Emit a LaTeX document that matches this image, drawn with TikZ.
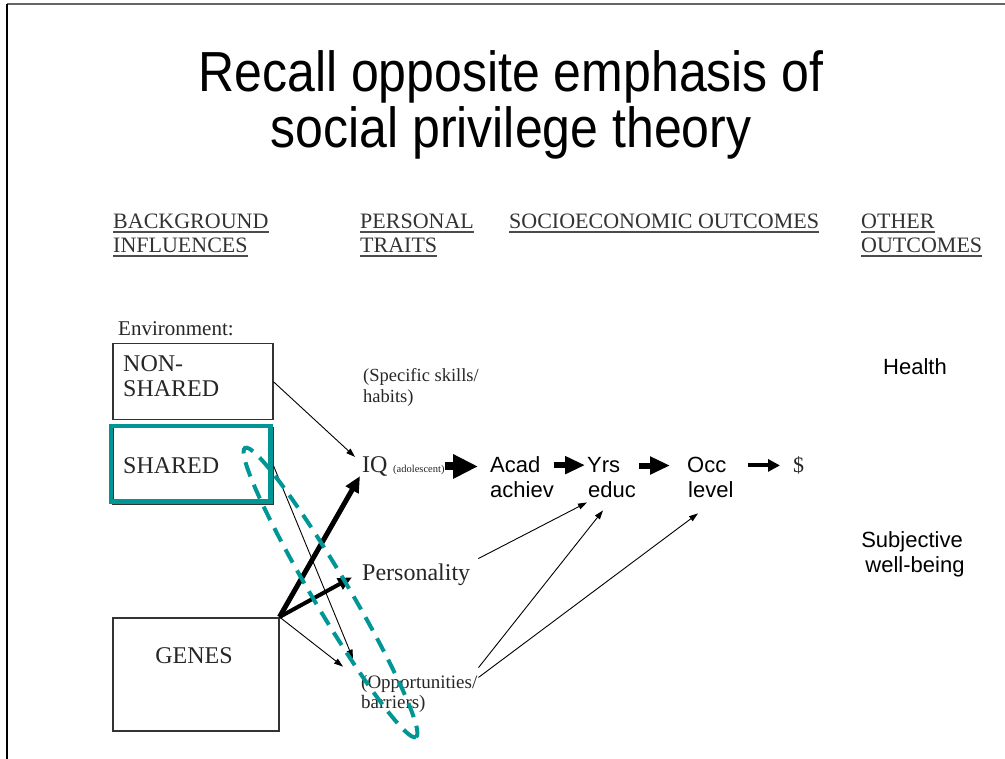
\documentclass[tikz,border=0pt]{standalone}
\usepackage{graphicx}
\usepackage{fontspec}
\setmainfont{Liberation Serif}
\newfontfamily\arialfont{Liberation Sans}
\usetikzlibrary{arrows.meta,calc}
\newcommand\fsz[1]{\fontsize{#1}{#1}\selectfont}
\definecolor{hlteal}{RGB}{0,150,150}

\begin{document}
\begin{tikzpicture}[x=1pt,y=-1pt,
  titlef/.style={inner sep=0pt, anchor=base, font=\arialfont\fsz{50}},
  hdr/.style={inner sep=0pt, anchor=base west, font=\fsz{22}, text=black!80},
  uline/.style={line width=1.3pt, black!70},
  trait/.style={inner sep=0pt, anchor=base west, text=black!85},
  sans/.style={inner sep=0pt, anchor=base west, font=\arialfont\fsz{22}},
  box/.style={draw=black!80, line width=1.5pt, inner sep=0pt, anchor=north west},
  thinarrow/.style={line width=0.9pt, -{Triangle[length=9pt,width=6pt]}},
  thickarrow/.style={line width=5pt, -{Triangle[length=16pt,width=14pt]}},
  medarrow/.style={line width=4pt, -{Triangle[length=14pt,width=12pt]}},
  bigblock/.style={line width=8pt, -{Triangle[length=25pt,width=23pt]}},
  block/.style={line width=6pt, -{Triangle[length=20pt,width=17pt]}},
  smallblock/.style={line width=4pt, -{Triangle[length=12pt,width=12pt]}},
  highlight/.style={draw=hlteal, line width=4.5pt}
]
\useasboundingbox (0,0) rectangle (1005,759);

% slide frame
\draw[black!60, line width=1.5pt] (7,4) -- (1005,4);
\draw[black, line width=1.5pt] (7,4) -- (7,759);

% title (slightly tall letterforms)
\node[titlef] (t1) at (511,92) {\scalebox{1}[1.13]{Recall opposite emphasis of}};
\node[titlef] (t2) at (511,148) {\scalebox{1}[1.13]{social privilege theory}};

% column headings
\node[hdr] (bg1) at (113,229) {BACKGROUND};
\node[hdr] (bg2) at (113,253) {INFLUENCES};
\node[hdr] (pt1) at (360,229) {PERSONAL};
\node[hdr] (pt2) at (360,253) {TRAITS};
\node[hdr] (se)  at (509,229) {SOCIOECONOMIC OUTCOMES};
\node[hdr] (ot1) at (861,229) {OTHER};
\node[hdr] (ot2) at (861,253) {OUTCOMES};
\foreach \h in {bg1,bg2,pt1,pt2,se,ot1,ot2}
  \draw[uline] ([yshift=-3pt]\h.base west) -- ([yshift=-3pt]\h.base east);

% background influences
\node[trait, font=\fsz{21}] (env) at (118,336) {Environment:};
\node[box, minimum width=160pt, minimum height=76pt] (nonshared) at (112,343) {};
\node[trait, font=\fsz{24}] (ns1) at (123,372) {NON-};
\node[trait, font=\fsz{24}] (ns2) at (123,397) {SHARED};
\node[box, minimum width=160pt, minimum height=76pt] (shared) at (112,427) {};
\draw[highlight] ($(shared.north west)+(-1,-1)$) rectangle ($(shared.south east)+(-3,-3)$);
\node[trait, font=\fsz{24}] (sh) at (123,474) {SHARED};
\node[box, minimum width=166pt, minimum height=113pt] (genes) at (112,617) {};
\node[trait, font=\fsz{24}, anchor=base] (gn) at (194,663) {GENES};

% personal traits
\node[trait, font=\fsz{18.5}] (sk1) at (363,382) {(Specific skills/};
\node[trait, font=\fsz{18.5}] (sk2) at (363,403) {habits)};
\node[trait, font=\fsz{24}] (iq) at (362,473) {IQ};
\node[trait, font=\fsz{10.5}] (adol) at (393,472) {(adolescent)};
\node[trait, font=\fsz{24}] (pers) at (362,580) {Personality};
\node[trait, font=\fsz{19}] (opp1) at (361,688) {(Opportunities/};
\node[trait, font=\fsz{19}] (opp2) at (361,708) {barriers)};

% socioeconomic outcomes
\node[sans] (acad) at (490,472) {Acad};
\node[sans] (achiev) at (490,497) {achiev};
\node[sans] (yrs) at (587,472) {Yrs};
\node[sans] (educ) at (588,497) {educ};
\node[sans] (occ) at (687,472) {Occ};
\node[sans] (level) at (688,497) {level};
\node[trait, font=\fsz{22}] (dollar) at (793,472) {\$};

% other outcomes
\node[sans, anchor=base] (health) at (915,375) {Health};
\node[sans, anchor=base] (subj1) at (912,547) {Subjective};
\node[sans, anchor=base] (subj2) at (915,572) {well-being};

% chain of block arrows
\draw[bigblock] ($(adol.east)+(0,-3)$) -- ($(adol.east -| acad.west)+(-12,-3)$);
\draw[block] ($(acad.east)+(13,1)$) -- ($(acad.east -| yrs.west)+(-2,1)$);
\draw[block] ($(yrs.east)+(19,1)$) -- ($(yrs.east -| occ.west)+(-17,1)$);
\draw[smallblock] ($(occ.east)+(21,1)$) -- ($(occ.east -| dollar.west)+(-13,1)$);

% influences on traits
\draw[thinarrow] (nonshared.east) -- ($(iq.north west)+(-7,0)$);
\draw[thinarrow] (shared.east) -- ($(opp1.north west)+(-8,-16)$);
\draw[thinarrow] (genes.north east) -- ($(opp1.north west)+(-18,-8)$);
\draw[thickarrow] (genes.north east) -- ($(iq.south west)+(-2,-1)$);
\draw[medarrow] (genes.north east) -- ($(pers.west)+(-10,3)$);

% traits to outcomes
\draw[thinarrow] ($(pers.north east)+(8,-4.6)$) -- ($(educ.south west)+(-1,5)$);
\draw[thinarrow] ($(opp1.north east)+(1,-7)$) -- ($(educ.south west)+(15,13)$);
\draw[thinarrow] ($(opp1.east)+(1,-6)$) -- ($(level.south west)+(10,16)$);

% dashed highlight around the shared-environment path
\draw[draw=hlteal, line width=4pt, dash pattern=on 15pt off 9pt,
      rotate around={-59.4:(330.5,592.5)}]
  (330.5,592.5) ellipse [x radius=168, y radius=18];
\end{tikzpicture}
\end{document}
